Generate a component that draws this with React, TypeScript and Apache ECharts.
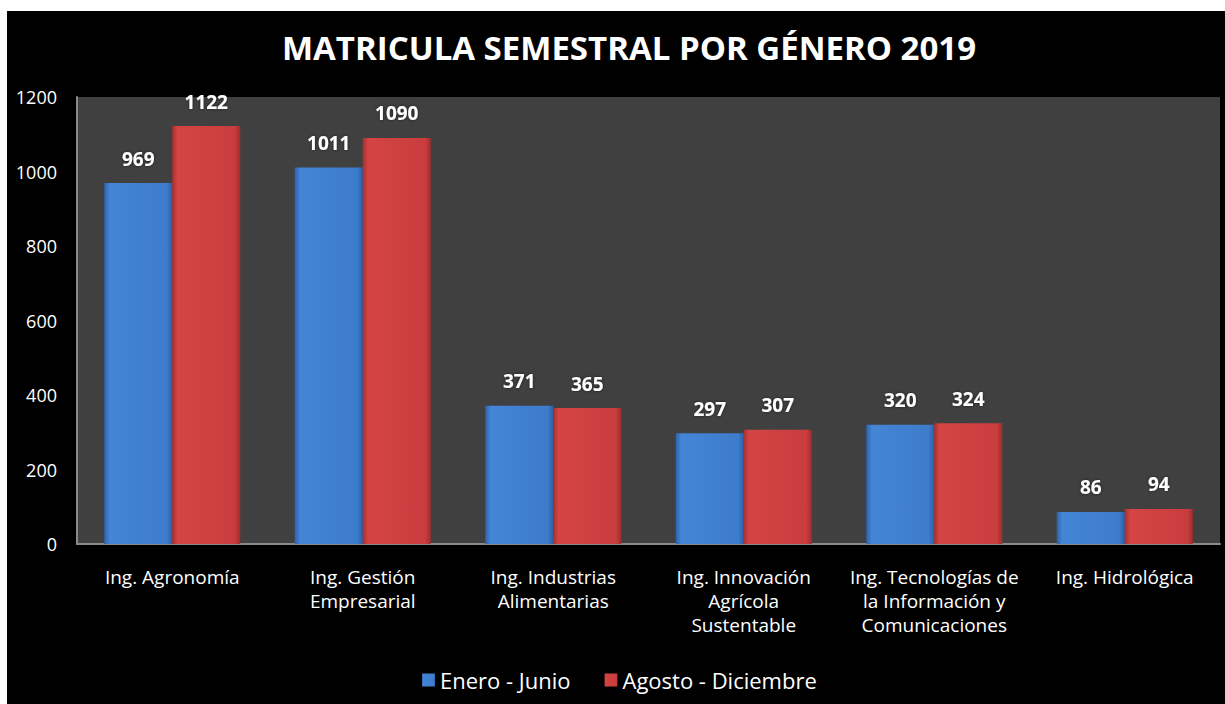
import React, { useEffect, useRef } from "react";
import * as echarts from "echarts";

const categories = [
  "Ing. Agronomía",
  "Ing. Gestión\nEmpresarial",
  "Ing. Industrias\nAlimentarias",
  "Ing. Innovación\nAgrícola\nSustentable",
  "Ing. Tecnologías de\nla Información y\nComunicaciones",
  "Ing. Hidrológica",
];
const eneroJunio = [969, 1011, 371, 297, 320, 86];
const agostoDiciembre = [1122, 1090, 365, 307, 324, 94];
const seriesNames = ["Enero - Junio", "Agosto - Diciembre"];
const titleText = "MATRICULA SEMESTRAL POR GÉNERO 2019";

const FONT = "'Open Sans', sans-serif";

const blueFill = new echarts.graphic.LinearGradient(0, 0, 1, 0, [
  { offset: 0, color: "#2e63ad" },
  { offset: 0.08, color: "#4585d6" },
  { offset: 0.92, color: "#3d7ccb" },
  { offset: 1, color: "#2b5ea6" },
]);
const redFill = new echarts.graphic.LinearGradient(0, 0, 1, 0, [
  { offset: 0, color: "#a82f30" },
  { offset: 0.08, color: "#d44444" },
  { offset: 0.92, color: "#c93d3e" },
  { offset: 1, color: "#a02c2d" },
]);

export default function App() {
  const ref = useRef<HTMLDivElement>(null);
  useEffect(() => {
    if (!ref.current) return;
    const chart = echarts.init(ref.current, null, { renderer: "svg" });
    const labelStyle = {
      show: true,
      position: "top" as const,
      distance: 15,
      color: "#ffffff",
      fontFamily: FONT,
      fontWeight: "bold" as const,
      fontSize: 19,
      textShadowColor: "rgba(0,0,0,0.6)",
      textShadowBlur: 3,
    };
    chart.setOption({
      animation: false,
      backgroundColor: "#000000",
      title: {
        text: titleText,
        left: 617,
        top: 15,
        textAlign: "center",
        textStyle: {
          color: "#ffffff",
          fontFamily: FONT,
          fontWeight: "bold",
          fontSize: 33,
        },
      },
      legend: {
        bottom: 8,
        left: 410,
        itemWidth: 13,
        itemHeight: 13,
        itemGap: 34,
        icon: "rect",
        textStyle: { color: "#ffffff", fontFamily: FONT, fontSize: 22 },
        data: seriesNames,
      },
      grid: {
        left: 70,
        right: 5,
        top: 86,
        bottom: 160,
        show: true,
        backgroundColor: "#404040",
        borderWidth: 0,
      },
      xAxis: {
        type: "category",
        data: categories,
        axisLine: { show: true, lineStyle: { color: "#8a8a8a", width: 2 } },
        axisTick: { show: false },
        axisLabel: {
          color: "#ffffff",
          fontFamily: FONT,
          fontSize: 19,
          lineHeight: 24,
          margin: 21,
          interval: 0,
        },
      },
      yAxis: {
        type: "value",
        min: 0,
        max: 1200,
        interval: 200,
        axisLine: { show: true, lineStyle: { color: "#8a8a8a", width: 2 } },
        axisTick: { show: false },
        splitLine: { show: false },
        axisLabel: {
          color: "#ffffff",
          fontFamily: FONT,
          fontSize: 18,
          margin: 20,
          formatter: (v: number) => String(v),
        },
      },
      series: [
        {
          name: seriesNames[0],
          type: "bar",
          data: eneroJunio,
          barWidth: 68,
          barGap: "0%",
          itemStyle: { color: blueFill, borderWidth: 0 },
          label: labelStyle,
        },
        {
          name: seriesNames[1],
          type: "bar",
          data: agostoDiciembre,
          barWidth: 68,
          barGap: "0%",
          itemStyle: { color: redFill, borderWidth: 0 },
          label: labelStyle,
        },
      ],
    });
    return () => chart.dispose();
  }, []);
  return (
    <div
      ref={ref}
      style={{ position: "absolute", left: 7, top: 11, width: 1218, height: 693 }}
    />
  );
}
